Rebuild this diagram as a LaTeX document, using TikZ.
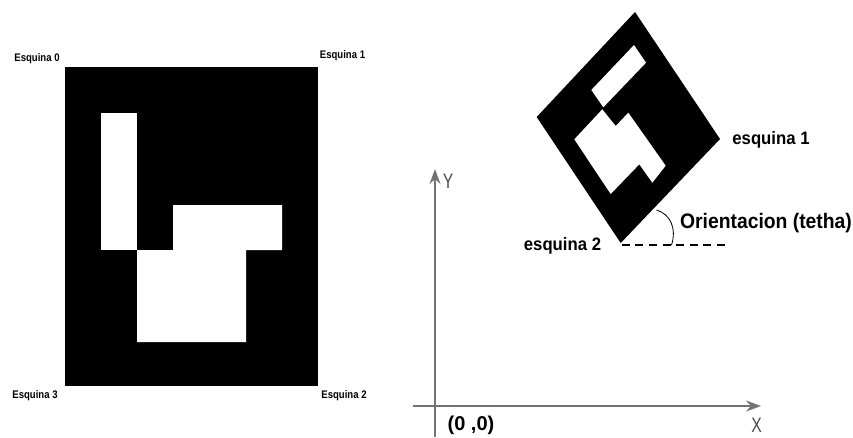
\documentclass[tikz,border=0pt]{standalone}
\usepackage{fontspec}
\usetikzlibrary{arrows.meta}
\setmainfont{Liberation Sans}
\begin{document}
\begin{tikzpicture}[x=1pt, y=-1pt,
		smalllabel/.style={font=\fontsize{11}{13}\selectfont\bfseries, inner sep=0pt, xscale=0.87},
		biglabel/.style={font=\fontsize{18}{20}\selectfont\bfseries, inner sep=0pt, xscale=0.93},
		axislabel/.style={font=\fontsize{21}{24}\selectfont, text=black!70, inner sep=0pt, xscale=0.75},
		axisline/.style={-{Stealth[length=15pt, width=11pt]}, draw=black!55, line width=1.5pt}]
	\useasboundingbox (0,0) rectangle (853,437);
	\fill[black] (65,67) rectangle (318,386);
	\fill[white] (101,113) rectangle (137,250);
	\fill[white] (173,205) -- (282,205) -- (282,250) -- (246,250) -- (246,342) -- (137,342) -- (137,250) -- (173,250) -- cycle;
	\foreach \x / \y / \i / \lab in {37/59/0/a, 342.5/56/1/b, 344/396/2/c, 35/396/3/d} {
		\node[smalllabel] (esq\lab) at (\x, \y) {Esquina \i};
	}
	\coordinate (corner2) at (620.7,243);
	\fill[black] (635,12) -- (720,139) -- (corner2) -- (536.7,117) -- cycle;
	\fill[white] (634,45) -- (646,62.7) -- (603.3,107.3) -- (591.3,90) -- cycle;
	\fill[white] (574.3,139.3) -- (602.3,109.3) -- (615.7,126) -- (628.3,112.7) -- (665.7,165.7) -- (652.3,182.7) -- (639.3,164.3) -- (610.7,194) -- cycle;
	\node[biglabel] (esquina1) at (771,140) {esquina 1};
	\node[biglabel] (esquina2) at (562.5,246) {esquina 2};
	\node[font=\fontsize{21}{24}\selectfont\bfseries, inner sep=0pt, xscale=0.92] (orient) at (766,223) {Orientacion (tetha)};
	\coordinate (dashstart) at (621.7,245);
	\coordinate (dashend) at (725,245);
	\coordinate (arcstart) at (656.5,210);
	\coordinate (arcend) at (671.5,245);
	\draw[line width=1.2pt, dash pattern=on 8pt off 5.6pt] (dashstart) -- (dashend);
	\draw[line width=0.8pt] (arcstart) .. controls (670,214) and (677,228) .. (arcend);
	\coordinate (originx) at (413,406);
	\coordinate (endx) at (761,406);
	\coordinate (originy) at (435,437);
	\coordinate (endy) at (435,169);
	\draw[axisline] (originy) -- (endy);
	\draw[axisline] (originx) -- (endx);
	\node[axislabel] (ylabel) at (448,181) {Y};
	\node[axislabel] (xlabel) at (756.5,425) {X};
	\node[font=\fontsize{20}{23}\selectfont\bfseries, inner sep=0pt] (origin) at (471,425) {(0 ,0)};
\end{tikzpicture}
\end{document}
